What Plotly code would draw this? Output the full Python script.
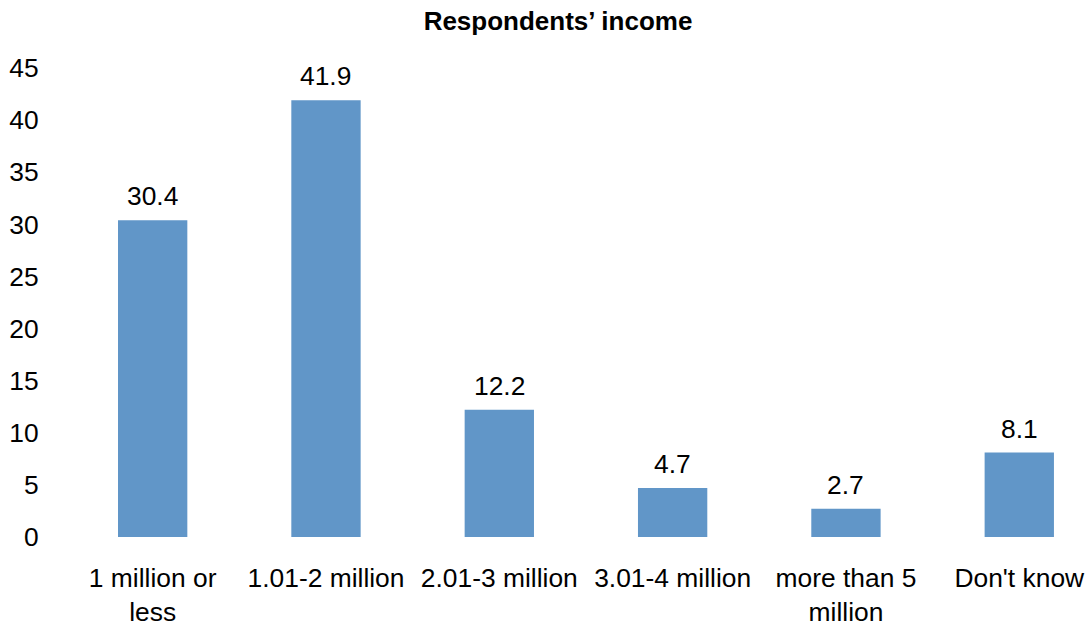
import plotly.graph_objects as go

categories = ["1 million or<br>less", "1.01-2 million", "2.01-3 million",
              "3.01-4 million", "more than 5<br>million", "Don't know"]
shares = [30.4, 41.9, 12.2, 4.7, 2.7, 8.1]
y_ticks = [0, 5, 10, 15, 20, 25, 30, 35, 40, 45]

FONT = "Liberation Sans, Arial, sans-serif"
BAR = "#6196C8"
SIZE = 26.4

fig = go.Figure(
    go.Bar(
        x=list(range(len(categories))),
        y=shares,
        width=0.4,
        marker=dict(color=BAR, line=dict(width=0)),
        hoverinfo="skip",
    )
)

# value labels above each bar
for i, v in enumerate(shares):
    fig.add_annotation(
        x=i, y=v, text=f"{v:.1f}", showarrow=False,
        yanchor="bottom", yshift=7,
        font=dict(family=FONT, size=SIZE, color="#000000"),
    )

fig.update_layout(
    width=1090, height=628,
    margin=dict(l=66, r=0, t=68, b=91),
    paper_bgcolor="white", plot_bgcolor="white",
    showlegend=False,
    title=dict(
        text="<b>Respondents’ income</b>",
        x=558 / 1090, xanchor="center", y=1 - 21 / 628, yanchor="middle",
        font=dict(family=FONT, size=26, color="#000000"),
    ),
    font=dict(family=FONT, size=SIZE, color="#000000"),
)

fig.update_xaxes(
    range=[-0.5, 5.408],
    tickmode="array",
    tickvals=list(range(len(categories))),
    ticktext=categories,
    showgrid=False, zeroline=False, showline=False,
    ticks="outside", ticklen=17, tickcolor="rgba(0,0,0,0)",
    tickfont=dict(family=FONT, size=SIZE, color="#000000"),
    fixedrange=True,
)

fig.update_yaxes(
    range=[0, 45],
    tickmode="array",
    tickvals=y_ticks,
    ticktext=[str(t) for t in y_ticks],
    showgrid=False, zeroline=False, showline=False,
    ticks="outside", ticklen=21, tickcolor="rgba(0,0,0,0)",
    tickfont=dict(family=FONT, size=SIZE, color="#000000"),
    fixedrange=True,
)

fig.write_html("out.html")
